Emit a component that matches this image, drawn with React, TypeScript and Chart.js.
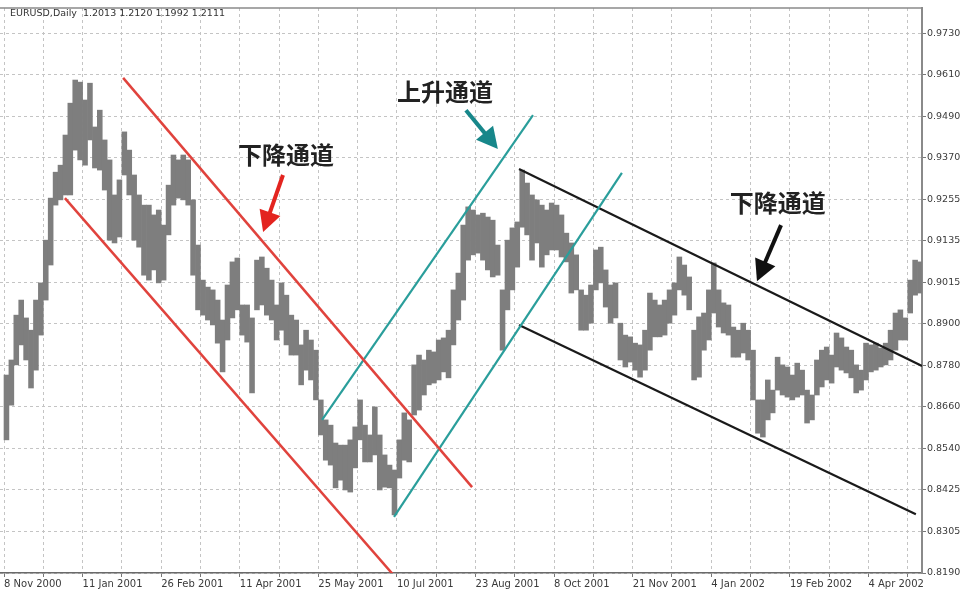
import React, { useEffect, useRef } from 'react';
import { Chart, registerables } from 'chart.js';

Chart.register(...registerables);

// ---------- data ----------
const headerText = 'EURUSD,Daily  1.2013 1.2120 1.1992 1.2111';

// x axis = trading-day index from 8 Nov 2000
const xTickPositions = [0, 32, 64, 96, 128, 160, 192, 224, 256, 288, 320, 352];
const xTickLabels = [
  '8 Nov 2000', '11 Jan 2001', '26 Feb 2001', '11 Apr 2001', '25 May 2001', '10 Jul 2001',
  '23 Aug 2001', '8 Oct 2001', '21 Nov 2001', '4 Jan 2002', '19 Feb 2002', '4 Apr 2002',
];
const xGridStep = 16;
const xMin = -1.63;
const xMax = 373.8;

const yTickLabels = [
  '0.8190', '0.8305', '0.8425', '0.8540', '0.8660', '0.8780', '0.8900',
  '0.9015', '0.9135', '0.9255', '0.9370', '0.9490', '0.9610', '0.9730',
];
const yMin = 0.819;
const yMax = 0.98026;

// one bar every two trading days, starting at day 1
const barStart = 1;
const barStep = 2;
const barHighs = [
  0.8755, 0.8798, 0.8926, 0.8969, 0.8918, 0.8883, 0.8969, 0.9018, 0.9140, 0.9260,
  0.9334, 0.9354, 0.9440, 0.9531, 0.9597, 0.9591, 0.9540, 0.9588, 0.9463, 0.9511,
  0.9426, 0.9369, 0.9269, 0.9312, 0.9449, 0.9397, 0.9326, 0.9269, 0.9240, 0.9240,
  0.9212, 0.9226, 0.9183, 0.9297, 0.9383, 0.9369, 0.9383, 0.9369, 0.9255, 0.9126,
  0.9026, 0.9006, 0.8998, 0.8969, 0.8912, 0.9012, 0.9078, 0.9089, 0.8955, 0.8955,
  0.8918, 0.9083, 0.9092, 0.9060, 0.9026, 0.8955, 0.9018, 0.8983, 0.8926, 0.8912,
  0.8841, 0.8883, 0.8855, 0.8826, 0.8684, 0.8627, 0.8612, 0.8561, 0.8555, 0.8555,
  0.8570, 0.8607, 0.8684, 0.8612, 0.8584, 0.8664, 0.8584, 0.8527, 0.8498, 0.8484,
  0.8570, 0.8647, 0.8627, 0.8784, 0.8812, 0.8798, 0.8826, 0.8821, 0.8855, 0.8861,
  0.8883, 0.8998, 0.9046, 0.9183, 0.9235, 0.9226, 0.9212, 0.9217, 0.9206, 0.9197,
  0.9126, 0.8998, 0.9140, 0.9175, 0.9192, 0.9340, 0.9303, 0.9269, 0.9255, 0.9240,
  0.9226, 0.9246, 0.9240, 0.9212, 0.9160, 0.9132, 0.9098, 0.8998, 0.8983, 0.9012,
  0.9112, 0.9120, 0.9055, 0.9012, 0.9018, 0.8903, 0.8869, 0.8864, 0.8846, 0.8841,
  0.8883, 0.8989, 0.8969, 0.8955, 0.8969, 0.8998, 0.9018, 0.9092, 0.9069, 0.9035,
  0.8883, 0.8921, 0.8932, 0.8998, 0.9075, 0.8998, 0.8961, 0.8955, 0.8892, 0.8883,
  0.8903, 0.8883, 0.8826, 0.8684, 0.8684, 0.8741, 0.8712, 0.8806, 0.8784, 0.8778,
  0.8755, 0.8789, 0.8769, 0.8712, 0.8698, 0.8798, 0.8826, 0.8835, 0.8812, 0.8875,
  0.8861, 0.8835, 0.8826, 0.8784, 0.8769, 0.8846, 0.8841, 0.8846, 0.8832, 0.8846,
  0.8883, 0.8932, 0.8941, 0.8918, 0.9026, 0.9083, 0.9078,
];
const barLows = [
  0.8570, 0.8669, 0.8784, 0.8841, 0.8798, 0.8718, 0.8769, 0.8869, 0.8969, 0.9069,
  0.9240, 0.9255, 0.9269, 0.9269, 0.9397, 0.9369, 0.9354, 0.9426, 0.9346, 0.9340,
  0.9283, 0.9140, 0.9132, 0.9149, 0.9326, 0.9269, 0.9140, 0.9120, 0.9040, 0.9026,
  0.9055, 0.9018, 0.9026, 0.9155, 0.9240, 0.9260, 0.9255, 0.9240, 0.9040, 0.8941,
  0.8926, 0.8912, 0.8898, 0.8846, 0.8764, 0.8855, 0.8918, 0.8941, 0.8869, 0.8849,
  0.8704, 0.8941, 0.8955, 0.8926, 0.8912, 0.8855, 0.8883, 0.8841, 0.8812, 0.8812,
  0.8727, 0.8769, 0.8741, 0.8684, 0.8584, 0.8512, 0.8498, 0.8433, 0.8455, 0.8427,
  0.8421, 0.8490, 0.8570, 0.8507, 0.8507, 0.8527, 0.8427, 0.8435, 0.8433, 0.8356,
  0.8461, 0.8512, 0.8507, 0.8641, 0.8655, 0.8698, 0.8727, 0.8732, 0.8741, 0.8764,
  0.8747, 0.8841, 0.8912, 0.8969, 0.9083, 0.9098, 0.9103, 0.9083, 0.9055, 0.9035,
  0.9040, 0.8826, 0.8941, 0.8998, 0.9063, 0.9177, 0.9155, 0.9083, 0.9132, 0.9063,
  0.9098, 0.9112, 0.9112, 0.9092, 0.9078, 0.8989, 0.8998, 0.8883, 0.8883, 0.8903,
  0.8998, 0.9018, 0.8949, 0.8903, 0.8918, 0.8798, 0.8778, 0.8792, 0.8769, 0.8749,
  0.8769, 0.8826, 0.8864, 0.8864, 0.8869, 0.8903, 0.8926, 0.8998, 0.8983, 0.8941,
  0.8741, 0.8749, 0.8826, 0.8855, 0.8932, 0.8892, 0.8875, 0.8869, 0.8806, 0.8806,
  0.8818, 0.8798, 0.8684, 0.8589, 0.8578, 0.8627, 0.8647, 0.8712, 0.8698, 0.8692,
  0.8684, 0.8692, 0.8698, 0.8618, 0.8627, 0.8698, 0.8721, 0.8741, 0.8732, 0.8778,
  0.8769, 0.8761, 0.8747, 0.8704, 0.8712, 0.8741, 0.8764, 0.8769, 0.8778, 0.8784,
  0.8798, 0.8826, 0.8855, 0.8855, 0.8932, 0.8983, 0.8989,
];

// channel lines: [start, end] as {x: day index, y: price}
const redUpper = [{ x: 48.5, y: 0.9603 }, { x: 190.6, y: 0.8435 }];
const redLower = [{ x: 24.8, y: 0.926 }, { x: 158.5, y: 0.8185 }];
const tealUpper = [{ x: 129.5, y: 0.8627 }, { x: 215.4, y: 0.9497 }];
const tealLower = [{ x: 158.8, y: 0.835 }, { x: 251.6, y: 0.9332 }];
const blackUpper = [{ x: 209.7, y: 0.9343 }, { x: 373.8, y: 0.8781 }];
const blackLower = [{ x: 209.7, y: 0.8898 }, { x: 371.3, y: 0.8358 }];

// annotations
const noteTexts = ['下降通道', '上升通道', '下降通道'];
const notePos = [
  { x: 114.8, y: 0.9383 },
  { x: 179.6, y: 0.9563 },
  { x: 315.1, y: 0.9246 },
];
const arrowTails = [
  { x: 113.6, y: 0.9326 },
  { x: 188.1, y: 0.9511 },
  { x: 316.4, y: 0.9183 },
];
const arrowTips = [
  { x: 105.5, y: 0.9163 },
  { x: 201.1, y: 0.94 },
  { x: 306.6, y: 0.9023 },
];
const arrowColors = ['#e3241f', '#17878a', '#111111'];

// ---------- styles ----------
const RED = '#e0433d';
const TEAL = '#2a9e9b';
const BLACK = '#1a1a1a';
const BAR = '#7e7e7e';
const GRID = '#c4c4c4';

const drawArrow = (
  ctx: CanvasRenderingContext2D,
  x1: number, y1: number, x2: number, y2: number, color: string,
) => {
  const ang = Math.atan2(y2 - y1, x2 - x1);
  const headLen = 21;
  const headW = 11;
  const bx = x2 - headLen * Math.cos(ang);
  const by = y2 - headLen * Math.sin(ang);
  ctx.save();
  ctx.strokeStyle = color;
  ctx.fillStyle = color;
  ctx.lineWidth = 4;
  ctx.lineCap = 'butt';
  ctx.setLineDash([]);
  ctx.beginPath();
  ctx.moveTo(x1, y1);
  ctx.lineTo(bx + 2 * Math.cos(ang), by + 2 * Math.sin(ang));
  ctx.stroke();
  ctx.beginPath();
  ctx.moveTo(x2, y2);
  ctx.lineTo(bx + headW * Math.sin(ang), by - headW * Math.cos(ang));
  ctx.lineTo(bx - headW * Math.sin(ang), by + headW * Math.cos(ang));
  ctx.closePath();
  ctx.fill();
  ctx.restore();
};

const overlayPlugin = {
  id: 'overlay',
  afterDatasetsDraw(chart: any) {
    const { ctx, chartArea, scales } = chart;
    const xs = scales.x;
    const ys = scales.y;
    ctx.save();
    ctx.setLineDash([]);
    // top border
    ctx.strokeStyle = '#8a8a8a';
    ctx.lineWidth = 1.5;
    ctx.beginPath();
    ctx.moveTo(0, chartArea.top);
    ctx.lineTo(chartArea.right, chartArea.top);
    ctx.stroke();
    // header
    ctx.fillStyle = '#333';
    ctx.font = '9.5px "DejaVu Sans"';
    ctx.textAlign = 'left';
    ctx.textBaseline = 'middle';
    ctx.fillText(headerText, 10, chartArea.top + 6);
    // arrows
    arrowTails.forEach((t, i) => {
      drawArrow(
        ctx,
        xs.getPixelForValue(t.x), ys.getPixelForValue(t.y),
        xs.getPixelForValue(arrowTips[i].x), ys.getPixelForValue(arrowTips[i].y),
        arrowColors[i],
      );
    });
    // texts
    ctx.fillStyle = '#222';
    ctx.font = 'bold 24px "Noto Sans CJK SC"';
    ctx.textAlign = 'center';
    ctx.textBaseline = 'middle';
    noteTexts.forEach((t, i) => {
      ctx.fillText(t, xs.getPixelForValue(notePos[i].x), ys.getPixelForValue(notePos[i].y));
    });
    ctx.restore();
  },
};

const lineDs = (data: { x: number; y: number }[], color: string, width: number) => ({
  type: 'line' as const,
  data,
  borderColor: color,
  borderWidth: width,
  pointRadius: 0,
  fill: false,
  order: 0,
  tension: 0,
});

export default function App() {
  const canvasRef = useRef<HTMLCanvasElement | null>(null);

  useEffect(() => {
    if (!canvasRef.current) return;
    Chart.defaults.font.family = '"DejaVu Sans", sans-serif';
    const bars = barHighs.map((h, i) => ({ x: barStart + barStep * i, y: [barLows[i], h] }));
    const yStep = (parseFloat(yTickLabels[yTickLabels.length - 1]) - yMin) / (yTickLabels.length - 1);

    const chart = new Chart(canvasRef.current, {
      type: 'bar',
      data: {
        datasets: [
          {
            type: 'bar',
            data: bars as any,
            backgroundColor: BAR,
            borderWidth: 0,
            barPercentage: 1,
            categoryPercentage: 1,
            order: 1,
          } as any,
          lineDs(redUpper, RED, 2.5),
          lineDs(redLower, RED, 2.5),
          lineDs(tealUpper, TEAL, 2.2),
          lineDs(tealLower, TEAL, 2.2),
          lineDs(blackUpper, BLACK, 2.2),
          lineDs(blackLower, BLACK, 2.2),
        ],
      },
      options: {
        animation: false,
        responsive: true,
        maintainAspectRatio: false,
        layout: { padding: { top: 8, left: 0, right: 0, bottom: 0 } },
        plugins: { legend: { display: false }, tooltip: { enabled: false } },
        scales: {
          x: {
            type: 'linear',
            min: xMin,
            max: xMax,
            offset: false,
            position: 'bottom',
            afterBuildTicks: (scale: any) => {
              const t = [];
              for (let v = 0; v <= xMax; v += xGridStep) t.push({ value: v });
              scale.ticks = t;
            },
            afterFit: (scale: any) => {
              scale.height = 22;
            },
            ticks: {
              autoSkip: false,
              maxRotation: 0,
              minRotation: 0,
              align: 'start',
              padding: 1,
              color: '#3a3a3a',
              font: { size: 10, family: '"DejaVu Sans"' },
              callback: (value: any) => {
                const idx = xTickPositions.indexOf(Number(value));
                return idx >= 0 ? xTickLabels[idx] : '';
              },
            },
            grid: {
              offset: false,
              color: GRID,
              lineWidth: 1,
              drawTicks: true,
              tickLength: 4,
              tickColor: '#777',
              tickBorderDash: [],
            } as any,
            border: { display: true, color: '#6a6a6a', width: 1.5, dash: [3, 3] },
          },
          y: {
            type: 'linear',
            position: 'right',
            min: yMin,
            max: yMax,
            beginAtZero: false,
            afterBuildTicks: (scale: any) => {
              scale.ticks = yTickLabels.map((_, i) => ({ value: yMin + i * yStep }));
            },
            afterFit: (scale: any) => {
              scale.width = 42;
            },
            ticks: {
              padding: 1,
              color: '#3a3a3a',
              font: { size: 9.5, family: '"DejaVu Sans"' },
              callback: (_v: any, index: number) => yTickLabels[index],
            },
            grid: {
              color: GRID,
              lineWidth: 1,
              drawTicks: true,
              tickLength: 4,
              tickColor: '#777',
              tickBorderDash: [],
            } as any,
            border: { display: true, color: '#8a8a8a', width: 2, dash: [3, 3] },
          },
        },
      } as any,
      plugins: [overlayPlugin],
    });
    return () => chart.destroy();
  }, []);

  return (
    <div style={{ position: 'absolute', left: 0, top: 0, width: 964, height: 595, background: '#fff' }}>
      <canvas ref={canvasRef} />
    </div>
  );
}
